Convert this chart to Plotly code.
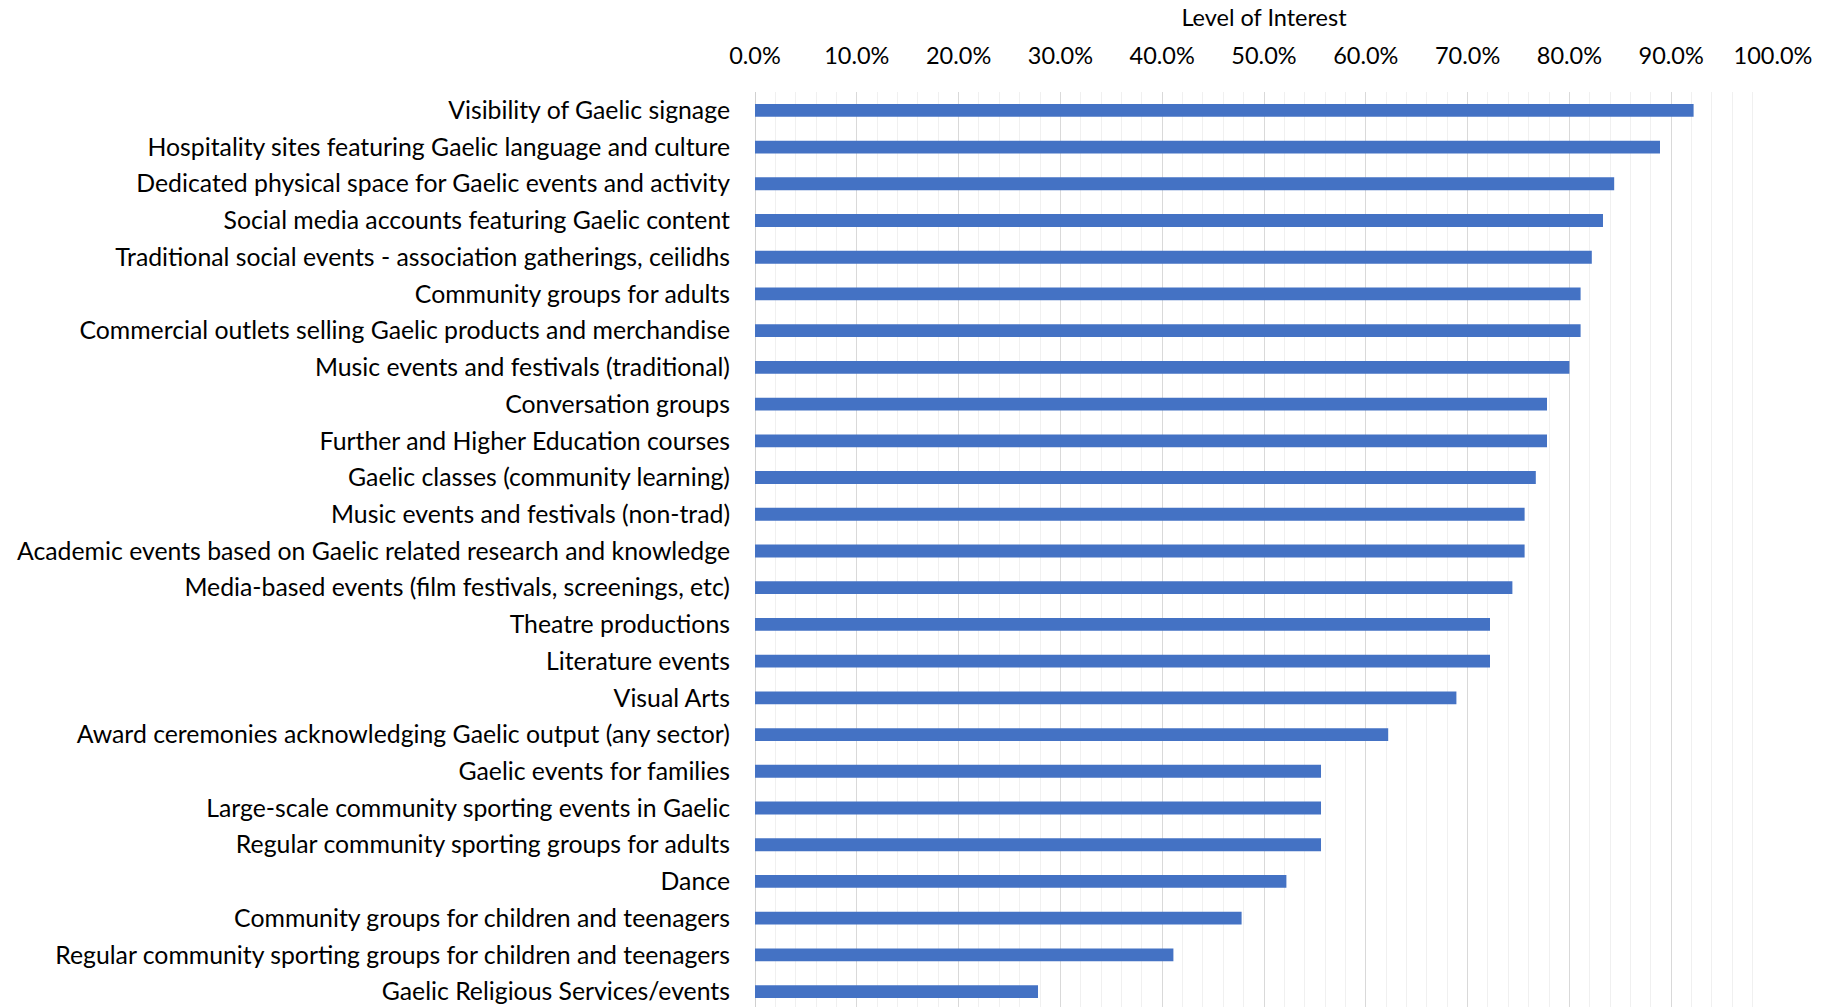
import plotly.graph_objects as go

# Activities, listed from highest to lowest level of interest
activities = [
    "Visibility of Gaelic signage",
    "Hospitality sites featuring Gaelic language and culture",
    "Dedicated physical space for Gaelic events and activity",
    "Social media accounts featuring Gaelic content",
    "Traditional social events - association gatherings, ceilidhs",
    "Community groups for adults",
    "Commercial outlets selling Gaelic products and merchandise",
    "Music events and festivals (traditional)",
    "Conversation groups",
    "Further and Higher Education courses",
    "Gaelic classes (community learning)",
    "Music events and festivals (non-trad)",
    "Academic events based on Gaelic related research and knowledge",
    "Media-based events (film festivals, screenings, etc)",
    "Theatre productions",
    "Literature events",
    "Visual Arts",
    "Award ceremonies acknowledging Gaelic output (any sector)",
    "Gaelic events for families",
    "Large-scale community sporting events in Gaelic",
    "Regular community sporting groups for adults",
    "Dance",
    "Community groups for children and teenagers",
    "Regular community sporting groups for children and teenagers",
    "Gaelic Religious Services/events",
]

interest = [
    0.922, 0.889, 0.844, 0.833, 0.822, 0.811, 0.811, 0.800, 0.778, 0.778,
    0.767, 0.756, 0.756, 0.744, 0.722, 0.722, 0.689, 0.622, 0.556, 0.556,
    0.556, 0.522, 0.478, 0.411, 0.278,
]

x_ticks = [0.0, 0.1, 0.2, 0.3, 0.4, 0.5, 0.6, 0.7, 0.8, 0.9, 1.0]

FONT = "Lato"
LABEL_SIZE = 24.8

fig = go.Figure(
    go.Bar(
        x=interest,
        y=activities,
        orientation="h",
        marker=dict(color="#4472C4", line=dict(width=0)),
        width=0.35,
    )
)

fig.update_layout(
    width=1827,
    height=1007,
    margin=dict(l=755, r=54, t=92, b=0),
    plot_bgcolor="white",
    paper_bgcolor="white",
    showlegend=False,
    font=dict(family=FONT, size=LABEL_SIZE, color="#000000"),
    xaxis=dict(
        side="top",
        range=[0, 1.0],
        tickvals=x_ticks,
        tickformat=".1%",
        showgrid=True,
        gridcolor="#d9d9d9",
        gridwidth=1,
        minor=dict(dtick=0.02, showgrid=True, gridcolor="#f0f0f0", gridwidth=1),
        zeroline=True,
        zerolinecolor="#d0d0d0",
        zerolinewidth=1,
        showline=False,
        ticks="",
        ticklabelstandoff=22,
        tickfont=dict(family=FONT, size=23.5, color="#000000"),
        title=dict(text="Level of Interest", font=dict(family=FONT, size=23.5, color="#000000"), standoff=8),
        fixedrange=True,
    ),
    yaxis=dict(
        type="category",
        categoryorder="array",
        categoryarray=activities,
        range=[24.42, -0.5],
        showgrid=False,
        zeroline=False,
        showline=False,
        ticks="",
        ticklabelstandoff=24,
        tickfont=dict(family=FONT, size=LABEL_SIZE, color="#000000"),
        fixedrange=True,
    ),
)

fig.write_html("out.html")
